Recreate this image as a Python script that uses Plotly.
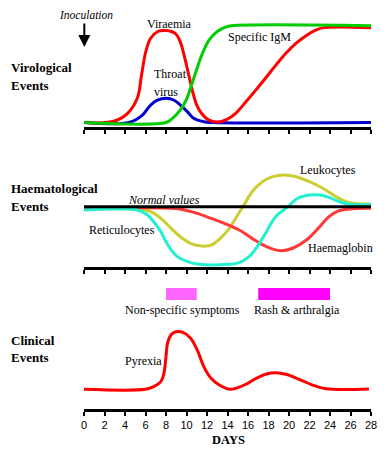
import plotly.graph_objects as go

# ---------------- DATA ----------------
# Virological events (0 = baseline, 100 = plateau)
vir_days = [0, 2.8, 4.2, 5.2, 5.6, 6.0, 6.5, 7.2, 8.0, 8.9, 9.4, 9.8, 10.2, 10.6, 11.0, 11.5, 12.1, 13.0,
            13.9, 14.8, 15.8, 16.8, 17.8, 18.7, 19.7, 20.7, 21.7, 22.6, 23.4, 28]
viraemia = [0, 1, 9, 25, 48, 72, 87, 94, 95, 92, 83, 68, 50, 32, 18, 9, 3, 0.5,
            3, 9.5, 21.5, 34, 47, 59, 71.5, 82, 90, 95.5, 98, 98]

igm_days = [0, 8.0, 8.6, 9.4, 10.0, 10.5, 11.0, 11.5, 12.2, 13.0, 13.8, 14.4, 28]
igm = [0, 0, 4, 13, 24, 39, 55, 70, 85, 94, 98.5, 100, 100]

throat_days = [0, 4.4, 5.7, 6.5, 7.15, 8.0, 8.8, 9.4, 10.1, 10.7, 11.7, 12.5, 28]
throat_virus = [0, 0, 7.7, 18, 23, 25, 23, 18, 11, 4.3, 0.8, 0, 0]

# Haematological events (0 = normal values)
normal_days = [0, 28]
normal_values = [0, 0]

retic_days = [0, 5.2, 6.2, 6.8, 7.5, 8.0, 8.5, 9.1, 10.1, 11.05, 14.1, 15.15, 16.1, 16.9, 17.8,
              18.7, 19.9, 20.85, 22.0, 23.0, 23.9, 24.9, 25.9, 28]
reticulocytes = [-3.4, -3.4, -8.6, -15.6, -25.8, -36.1, -44.7, -51.6, -56.8, -59.2, -59.5, -57.8, -51.6,
                 -41.3, -25.8, -10.3, 0, 8.7, 12.1, 12.1, 9.6, 5.2, 2.5, 2.1]

leuko_days = [0, 5.4, 6.5, 7.5, 8.5, 9.4, 10.4, 11.5, 12.4, 13.3, 14.1, 14.8, 15.6, 16.4, 17.4,
              18.4, 19.5, 20.7, 22.0, 23.3, 24.6, 25.9, 28]
leukocytes = [-2.7, -2.7, -5.2, -12.1, -22.4, -31.1, -37.9, -40.7, -39.7, -32.7, -23.5, -12, 1.7, 15.5,
              25.8, 31, 32.7, 31, 25.8, 19, 10.3, 4.1, 2.8]

haem_days = [0, 8.6, 9.8, 11.05, 12.4, 13.7, 15.15, 16.4, 17.8, 19.2, 20.35, 21.7, 23.0, 23.9, 24.9, 26.2, 28]
haemaglobin = [-1.7, -1.7, -3.4, -6.9, -12.1, -17.2, -24.1, -32.7, -41.3, -45.5, -42.9, -34.4, -20.6,
               -10.3, -4.1, -2.1, -1.7]

# Clinical events
symptoms = ["Non-specific symptoms", "Rash & arthralgia"]
symptom_start = [8, 17]
symptom_end = [11, 24]

pyr_days = [0, 6.0, 6.8, 7.5, 7.8, 8.0, 8.15, 8.5, 8.95, 9.6, 10.4, 11.05, 11.7, 12.4, 13.2, 14.2,
            14.8, 15.8, 16.8, 17.8, 18.7, 19.7, 21.0, 22.3, 23.6, 27.8]
pyrexia = [0, 0, 2.7, 7.9, 16.6, 33.9, 47.7, 56.3, 59.5, 59, 52.7, 40.5, 23.2, 11.3, 4.4, 0,
           1, 5.2, 11.3, 15.8, 17.2, 15.5, 10.3, 4.4, 0.6, 0.3]

day_ticks = list(range(0, 29, 2))

# ---------------- LAYOUT HELPERS ----------------
W, H = 387, 450
S = 0.968  # pixels per value unit


def py(p):
    return 1 - p / H


def px(p):
    return p / W


def yrange(base, bottom, top):
    return [(base - bottom) / S, (base - top) / S]


XDOM = [px(84), px(371)]
SERIF = "Liberation Serif, Times New Roman, DejaVu Serif, serif"

fig = go.Figure()


def line(x, y, color, ax):
    fig.add_trace(go.Scatter(x=x, y=y, mode="lines", line=dict(color=color, width=3, shape="spline"),
                             xaxis="x" + ax, yaxis="y" + ax, hoverinfo="skip", showlegend=False))


# top panel
line(throat_days, throat_virus, "#0000CC", "")
line(vir_days, viraemia, "#FF0000", "")
line(igm_days, igm, "#00CC00", "")
# middle panel
line(leuko_days, leukocytes, "#CCCC33", "2")
line(haem_days, haemaglobin, "#FF3838", "2")
line(retic_days, reticulocytes, "#22F0D0", "2")
line(normal_days, normal_values, "#000000", "2")
# bottom panel
fig.add_trace(go.Bar(y=[98.5, 98.5], base=symptom_start,
                     x=[e - s for s, e in zip(symptom_start, symptom_end)],
                     orientation="h", width=12.4, marker=dict(color=["#FF66FF", "#FF00FF"], line=dict(width=0)),
                     xaxis="x3", yaxis="y3", hoverinfo="skip", showlegend=False))
line(pyr_days, pyrexia, "#FF0000", "3")

xcommon = dict(range=[0, 28], domain=XDOM, showline=True, linewidth=3, linecolor="black",
               ticks="outside", ticklen=4, tickwidth=2, tickcolor="black", tickvals=day_ticks,
               showgrid=False, zeroline=False, fixedrange=True, automargin=False)
ycommon = dict(visible=False, showgrid=False, zeroline=False, fixedrange=True)

fig.update_layout(
    width=W, height=H, autosize=False, margin=dict(l=0, r=0, t=0, b=0, pad=0),
    paper_bgcolor="white", plot_bgcolor="white", barmode="overlay", showlegend=False,
    font=dict(family=SERIF, color="black"),
    xaxis=dict(**xcommon, anchor="y", showticklabels=False),
    xaxis2=dict(**xcommon, anchor="y2", showticklabels=False),
    xaxis3=dict(**xcommon, anchor="y3", showticklabels=True,
                tickfont=dict(family="Liberation Sans, Arial, sans-serif", size=11, color="black")),
    yaxis=dict(**ycommon, anchor="x", domain=[py(126.8), py(14)], range=yrange(122.5, 126.8, 14)),
    yaxis2=dict(**ycommon, anchor="x2", domain=[py(267.2), py(150)], range=yrange(206.7, 267.2, 150)),
    yaxis3=dict(**ycommon, anchor="x3", domain=[py(408.5), py(280)], range=yrange(389.3, 408.5, 280)),
)

labels = [
    ("Inoculation", 57, 14.5, 11.5, False, True),
    ("Viraemia", 145, 24, 12, False, False),
    ("Throat", 152, 74.3, 12, False, False),
    ("virus", 152, 92.3, 12, False, False),
    ("Specific IgM", 226, 36.7, 12, False, False),
    ("Virological", 9, 67.7, 13, True, False),
    ("Events", 9, 85, 13, True, False),
    ("Haematological", 9, 188.3, 13, True, False),
    ("Events", 9, 206, 13, True, False),
    ("Normal values", 126, 199.5, 12, False, True),
    ("Reticulocytes", 87, 230, 12, False, False),
    ("Leukocytes", 298, 170, 12, False, False),
    ("Haemaglobin", 306, 248.3, 12, False, False),
    ("Non-specific symptoms", 123, 310, 12, False, False),
    ("Rash & arthralgia", 252, 310, 12, False, False),
    ("Clinical", 9, 340, 13, True, False),
    ("Events", 9, 357.7, 13, True, False),
    ("Pyrexia", 123, 361, 12, False, False),
    ("DAYS", 210, 440, 12.5, True, False),
]
for text, xl, yc, size, bold, ital in labels:
    t = text
    if bold:
        t = "<b>" + t + "</b>"
    if ital:
        t = "<i>" + t + "</i>"
    fig.add_annotation(text=t, x=px(xl), y=py(yc), xref="paper", yref="paper",
                       xanchor="left", yanchor="middle", showarrow=False,
                       font=dict(family=SERIF, size=size, color="black"))

# inoculation arrow
fig.add_annotation(text="", x=px(84.3), y=py(47), xref="paper", yref="paper",
                   ax=0, ay=-25, showarrow=True, arrowhead=2, arrowsize=1.2, arrowwidth=2,
                   arrowcolor="black", standoff=0)

fig.write_html("out.html",
               config={"displayModeBar": False, "responsive": False},
               post_script="document.body.style.margin='0';document.body.style.overflow='hidden';")
